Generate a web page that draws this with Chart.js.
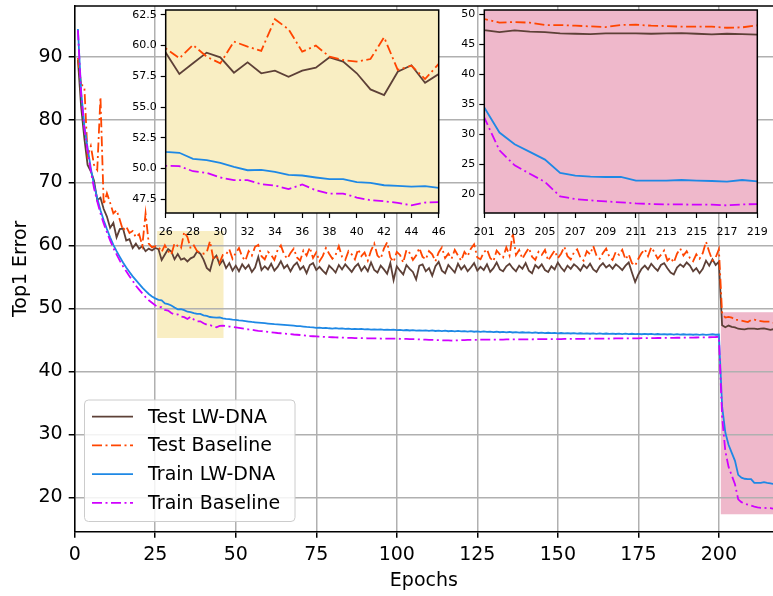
<!DOCTYPE html>
<html>
<head>
<meta charset="utf-8">
<script src="https://cdn.jsdelivr.net/npm/chart.js@4.4.1/dist/chart.umd.min.js"></script>
<style>
  body { margin: 0; background: #fff; }
  #wrap { position: relative; width: 773px; height: 596px; }
  canvas { position: absolute; }
</style>
</head>
<body>
<div id="wrap">
  <canvas id="mainChart" width="773" height="596" style="left:0;top:0"></canvas>
  <canvas id="inset1" width="330" height="240" style="left:120px;top:0"></canvas>
  <canvas id="inset2" width="330" height="240" style="left:440px;top:0"></canvas>
</div>
<script>
// top1 error per epoch, epochs 1..219
const testLW = [
  89.5, 82.0, 77.0, 72.8, 71.8, 70.3, 67.2, 67.6, 65.8, 64.6, 62.8, 63.6, 61.3, 62.6, 62.7, 60.8, 61.0, 59.6, 60.3, 59.5, 59.9, 59.1, 59.5, 59.2, 59.6,
  59.43, 57.69, 58.56, 59.43, 59.05, 57.80, 58.64, 57.75, 57.96, 57.47, 57.96, 58.21, 59.05, 58.70, 57.75, 56.44, 55.98, 57.88, 58.40, 56.98, 57.69,
  56.4, 57.2, 56.0, 56.8, 55.9, 57.0, 56.3, 56.9, 55.8, 56.5,
  58.2, 56.1, 56.7, 56.2, 57.1, 56.0, 56.6, 57.5, 56.4, 56.9,
  55.9, 56.8, 57.3, 56.2, 56.7, 55.6, 56.9, 57.2, 56.1, 56.6,
  56.0, 55.5, 56.8, 56.3, 55.7, 56.9, 56.2, 57.0, 56.4, 55.8,
  56.6, 57.1, 56.0, 56.7, 55.9, 57.3, 56.1, 55.7, 56.8, 56.2,
  55.5, 57.2, 54.5, 56.7, 56.0, 55.4, 56.9, 56.3, 55.8, 54.6,
  56.8, 57.0, 55.9, 56.4, 55.2, 56.7, 57.4, 56.0, 55.6, 56.9,
  56.3, 55.7, 57.1, 56.2, 56.8, 55.9, 56.5, 57.2, 56.0, 56.6,
  56.1, 57.0, 55.8, 56.4, 57.3, 56.2, 55.9, 56.7, 57.1, 56.4,
  55.9, 56.8, 56.3, 57.2, 56.0, 55.6, 56.9, 56.4, 57.0, 56.1,
  55.8, 56.7, 56.2, 57.3, 56.5, 55.9, 56.8, 56.3, 57.0, 56.6,
  56.0, 56.9, 56.4, 57.1, 56.2, 55.8, 56.7, 57.2, 56.5, 56.9,
  56.3, 57.0, 56.6, 56.1, 56.8, 57.3, 55.7, 54.2, 55.4, 56.3,
  56.8, 56.2, 57.1, 56.5, 56.0, 56.9, 57.2, 56.4, 55.7, 55.4,
  56.5, 57.0, 56.6, 57.3, 56.8, 55.9, 56.4, 55.6, 56.3, 57.6,
  56.8, 57.8, 56.9, 57.4,
  47.33, 47.0, 47.28, 47.06, 47.0, 46.78, 46.72, 46.67, 46.78, 46.78, 46.78, 46.72, 46.78, 46.83, 46.72, 46.61, 46.72, 46.67, 46.56
];
const testBase = [
  89.8, 85.6, 85.2, 74.3, 75.8, 72.8, 72.0, 83.6, 66.5, 68.3, 66.8, 65.1, 65.6, 64.1, 62.4, 63.0, 62.0, 62.3, 61.3, 61.8, 60.0, 65.1, 60.3, 59.7, 59.9,
  59.78, 58.97, 60.05, 59.10, 58.56, 60.33, 59.92, 59.57, 62.15, 61.33, 59.51, 60.0, 59.10, 58.83, 58.70, 58.91, 60.68, 58.02, 58.37, 57.28, 58.51,
  58.6, 59.4, 57.9, 58.8, 59.6, 58.2, 57.6, 59.1, 58.4, 59.8,
  60.1, 58.3, 57.8, 59.0, 58.5, 57.7, 59.3, 60.0, 58.6, 57.9,
  58.8, 59.5, 58.1, 57.6, 59.2, 58.4, 59.7, 58.0, 58.9, 57.5,
  58.3, 59.6, 58.7, 57.9, 58.5, 59.9, 58.2, 57.7, 59.1, 58.6,
  57.8, 59.4, 58.3, 58.9, 57.6, 59.2, 60.3, 58.4, 57.9, 59.5,
  60.5, 58.1, 57.4, 59.0, 58.5, 57.3, 59.3, 58.8, 57.7, 58.4,
  59.6, 58.2, 57.8, 59.1, 58.6, 57.5, 58.9, 59.7, 58.0, 58.7,
  57.9, 59.3, 58.4, 57.6, 59.0, 58.3, 59.5, 60.2, 58.1, 57.8,
  58.9, 59.4, 58.0, 57.5, 59.2, 58.6, 58.1, 59.7, 58.4, 62.0,
  58.5, 59.3, 57.9, 58.8, 59.6, 58.2, 57.7, 59.0, 58.5, 59.3,
  57.6, 58.4, 59.2, 58.0, 58.7, 59.8, 58.3, 57.8, 58.9, 59.4,
  58.1, 57.6, 59.1, 58.6, 59.9, 58.4, 57.9, 58.8, 59.5, 58.2,
  57.7, 59.0, 58.5, 59.3, 57.8, 58.6, 57.2, 56.8, 57.9, 58.8,
  59.4, 58.3, 59.7, 58.9, 57.9, 58.5, 59.2, 57.6, 58.1, 57.3,
  58.7, 59.5, 58.4, 59.1, 58.0, 57.5, 58.6, 57.9, 58.8, 60.6,
  59.0, 57.6, 58.1, 59.4,
  49.17, 48.56, 48.67, 48.56, 48.17, 48.17, 48.06, 47.94, 47.83, 48.17, 48.22, 48.06, 48.0, 47.89, 47.89, 47.89, 47.72, 47.78, 48.11
];
const trainLW = [
  94.4, 84.5, 79.0, 75.5, 72.3, 69.6, 67.5, 65.6, 64.0, 62.6, 61.3, 60.1, 59.1, 58.2, 57.3, 56.5, 55.8, 55.1, 54.5, 53.9, 53.3, 52.8, 52.3, 51.9, 51.6,
  51.36, 51.28, 50.79, 50.68, 50.46, 50.14, 49.86, 49.89, 49.73, 49.48, 49.43, 49.27, 49.13, 49.13, 48.89, 48.83, 48.64, 48.59, 48.53, 48.56, 48.42,
  48.35, 48.3, 48.22, 48.18, 48.1, 48.05, 47.98, 47.92, 47.85, 47.8,
  47.75, 47.7, 47.66, 47.6, 47.55, 47.5, 47.47, 47.42, 47.38, 47.35,
  47.3, 47.26, 47.2, 47.18, 47.12, 47.06, 47.02, 47.0, 46.9, 46.95,
  46.88, 46.92, 46.85, 46.8, 46.86, 46.78, 46.82, 46.75, 46.79, 46.72,
  46.76, 46.7, 46.74, 46.66, 46.72, 46.64, 46.68, 46.62, 46.66, 46.6,
  46.64, 46.58, 46.62, 46.55, 46.6, 46.52, 46.57, 46.5, 46.56, 46.48,
  46.53, 46.47, 46.51, 46.44, 46.5, 46.42, 46.47, 46.4, 46.46, 46.38,
  46.44, 46.37, 46.42, 46.35, 46.4, 46.33, 46.38, 46.3, 46.36, 46.28,
  46.34, 46.27, 46.32, 46.25, 46.3, 46.22, 46.28, 46.2, 46.26, 46.18,
  46.24, 46.16, 46.22, 46.15, 46.2, 46.12, 46.18, 46.1, 46.16, 46.08,
  46.14, 46.07, 46.12, 46.05, 46.1, 46.04, 46.09, 46.02, 46.08, 46.0,
  46.06, 46.0, 46.05, 45.98, 46.04, 45.97, 46.03, 45.96, 46.02, 45.95,
  46.01, 45.94, 46.0, 45.93, 45.99, 45.92, 45.98, 45.91, 45.97, 45.9,
  45.96, 45.9, 45.95, 45.88, 45.94, 45.87, 45.93, 45.86, 45.92, 45.85,
  45.91, 45.84, 45.9, 45.83, 45.89, 45.82, 45.88, 45.81, 45.87, 45.8,
  45.85, 45.9, 45.82, 45.86,
  34.44, 30.28, 28.33, 27.06, 25.78, 23.56, 23.11, 22.94, 22.89, 22.89, 22.28, 22.28, 22.28, 22.39, 22.28, 22.22, 22.11, 22.39, 22.17
];
const trainBase = [
  94.2, 84.0, 78.5, 75.0, 71.8, 69.1, 67.0, 65.1, 63.5, 62.1, 60.8, 59.6, 58.6, 57.6, 56.7, 55.9, 55.1, 54.4, 53.6, 53.0, 52.4, 51.8, 51.3, 50.9, 50.5,
  50.22, 50.19, 49.78, 49.65, 49.27, 49.05, 49.05, 48.72, 48.61, 48.32, 48.70, 48.23, 47.96, 47.96, 47.64, 47.42, 47.34, 47.20, 47.01, 47.23, 47.26,
  47.2, 47.12, 47.05, 46.98, 46.9, 46.82, 46.74, 46.66, 46.6, 46.52,
  46.45, 46.4, 46.33, 46.27, 46.22, 46.16, 46.1, 46.06, 46.0, 45.96,
  45.92, 45.86, 45.82, 45.78, 45.72, 45.68, 45.62, 45.58, 45.55, 45.52,
  45.5, 45.47, 45.44, 45.42, 45.4, 45.38, 45.36, 45.35, 45.33, 45.32,
  45.3, 45.29, 45.28, 45.27, 45.26, 45.25, 45.24, 45.23, 45.22, 45.22,
  45.21, 45.2, 45.2, 45.19, 45.18, 45.17, 45.16, 45.14, 45.12, 45.1,
  45.08, 45.06, 45.04, 45.02, 45.0, 44.98, 44.96, 44.94, 44.93, 44.92,
  44.9, 44.92, 44.94, 44.96, 44.98, 45.0, 45.0, 45.02, 45.02, 45.03,
  45.03, 45.04, 45.04, 45.05, 45.05, 45.06, 45.06, 45.07, 45.07, 45.08,
  45.08, 45.09, 45.09, 45.1, 45.1, 45.1, 45.11, 45.11, 45.12, 45.12,
  45.12, 45.13, 45.13, 45.14, 45.14, 45.15, 45.15, 45.16, 45.16, 45.17,
  45.17, 45.18, 45.18, 45.19, 45.19, 45.2, 45.2, 45.21, 45.21, 45.22,
  45.22, 45.23, 45.23, 45.24, 45.24, 45.25, 45.25, 45.26, 45.26, 45.27,
  45.27, 45.28, 45.28, 45.29, 45.3, 45.3, 45.31, 45.32, 45.32, 45.33,
  45.34, 45.34, 45.35, 45.36, 45.37, 45.37, 45.38, 45.39, 45.4, 45.41,
  45.42, 45.44, 45.46, 45.5,
  32.78, 27.33, 24.83, 23.44, 22.06, 19.67, 19.22, 19.0, 18.83, 18.67, 18.5, 18.39, 18.33, 18.33, 18.28, 18.28, 18.17, 18.33, 18.39
];
const epochs = testLW.map((v, i) => i + 1);

const seriesNames = ['Test LW-DNA', 'Test Baseline', 'Train LW-DNA', 'Train Baseline'];
const seriesValues = [testLW, testBase, trainLW, trainBase];

// tick labels
const mainXTicks = [0, 25, 50, 75, 100, 125, 150, 175, 200];
const mainYTicks = [20, 30, 40, 50, 60, 70, 80, 90];
const inset1XTicks = [26, 28, 30, 32, 34, 36, 38, 40, 42, 44, 46];
const inset1YTicks = [47.5, 50.0, 52.5, 55.0, 57.5, 60.0, 62.5];
const inset2XTicks = [201, 203, 205, 207, 209, 211, 213, 215, 217, 219];
const inset2YTicks = [20, 25, 30, 35, 40, 45, 50];

// zoomed regions: [xFrom, xTo, yFrom, yTo]
const yellowBox = [25.6, 46.2, 45.3, 62.3];
const pinkBox = [200.6, 230, 17.3, 49.4];

const colors = ['#5d4037', '#ff4500', '#1e88e5', '#d000ff'];
const dashes = [[], [10, 3.5, 2, 3.5], [], [10, 3.5, 2, 3.5]];
const YELLOW = '#f9eec3';
const PINK = '#efb8cb';
const FONT = "'DejaVu Sans', sans-serif";

Chart.defaults.font.family = FONT;
Chart.defaults.color = '#000';

function makeDatasets(width) {
  return seriesNames.map((name, k) => ({
    label: name,
    data: epochs.map((e, i) => ({ x: e, y: seriesValues[k][i] })),
    borderColor: colors[k],
    borderWidth: width,
    borderDash: dashes[k],
    pointRadius: 0,
    tension: 0,
    fill: false,
    order: 4 - k
  }));
}

function setTicks(list) {
  return scale => { scale.ticks = list.map(v => ({ value: v })); };
}

// fixed axis size, no extra padding for edge labels
function fitAxis(size) {
  return s => {
    if (s.isHorizontal()) s.height = size; else s.width = size;
    s.paddingTop = 0; s.paddingBottom = 0; s.paddingLeft = 0; s.paddingRight = 0;
  };
}

const mainDecor = {
  id: 'mainDecor',
  beforeDraw(chart) {
    const { ctx, chartArea: a, scales: { x, y } } = chart;
    ctx.save();
    ctx.beginPath();
    ctx.rect(a.left, a.top, a.right - a.left, a.bottom - a.top);
    ctx.clip();
    [[yellowBox, YELLOW], [pinkBox, PINK]].forEach(([b, c]) => {
      const x0 = x.getPixelForValue(b[0]), x1 = x.getPixelForValue(b[1]);
      const y0 = y.getPixelForValue(b[3]), y1 = y.getPixelForValue(b[2]);
      ctx.fillStyle = c;
      ctx.fillRect(x0, y0, x1 - x0, y1 - y0);
    });
    ctx.restore();
  },
  afterDraw(chart) {
    const { ctx, chartArea: a } = chart;
    ctx.save();
    // top spine
    ctx.strokeStyle = '#000';
    ctx.lineWidth = 1.5;
    ctx.beginPath();
    ctx.moveTo(a.left, a.top);
    ctx.lineTo(a.right, a.top);
    ctx.stroke();

    // legend
    const bx = 84.5, by = 400, bw = 210.5, bh = 121.5;
    ctx.beginPath();
    ctx.roundRect(bx, by, bw, bh, 4);
    ctx.fillStyle = 'rgba(255,255,255,0.85)';
    ctx.fill();
    ctx.strokeStyle = '#cccccc';
    ctx.lineWidth = 1;
    ctx.stroke();
    ctx.font = '19px ' + FONT;
    ctx.textBaseline = 'middle';
    chart.data.datasets.forEach((ds, i) => {
      const ly = 416.7 + i * 28.7;
      ctx.strokeStyle = ds.borderColor;
      ctx.lineWidth = 1.8;
      ctx.setLineDash(ds.borderDash);
      ctx.beginPath();
      ctx.moveTo(92, ly);
      ctx.lineTo(133, ly);
      ctx.stroke();
      ctx.setLineDash([]);
      ctx.fillStyle = '#000';
      ctx.fillText(ds.label, 148, ly + 1);
    });
    ctx.restore();
  }
};

new Chart(document.getElementById('mainChart'), {
  type: 'line',
  data: { datasets: makeDatasets(1.8) },
  options: {
    responsive: false,
    animation: false,
    devicePixelRatio: 1,
    layout: { padding: { top: 6, right: 0, left: 0, bottom: 0 } },
    plugins: { legend: { display: false }, tooltip: { enabled: false } },
    scales: {
      x: {
        type: 'linear',
        min: 0,
        max: 216.8,
        afterBuildTicks: setTicks(mainXTicks),
        afterFit: fitAxis(64.3),
        grid: { color: '#b0b0b0', lineWidth: 1.5, tickColor: '#000', tickWidth: 1.5, tickLength: 6 },
        border: { color: '#000', width: 1.5 },
        ticks: { font: { size: 19 }, padding: 6, maxRotation: 0 },
        title: { display: true, text: 'Epochs', font: { size: 19 }, padding: { top: 0, bottom: 3.5 } }
      },
      y: {
        type: 'linear',
        min: 14.53,
        max: 98.05,
        afterBuildTicks: setTicks(mainYTicks),
        afterFit: fitAxis(74.7),
        grid: { color: '#b0b0b0', lineWidth: 1.5, tickColor: '#000', tickWidth: 1.5, tickLength: 6 },
        border: { color: '#000', width: 1.5 },
        ticks: { font: { size: 19 }, padding: 6 },
        title: { display: true, text: 'Top1 Error', font: { size: 19 }, padding: { top: 10, bottom: 0 } }
      }
    }
  },
  plugins: [mainDecor]
});

function insetDecor(bg) {
  return {
    id: 'insetDecor',
    beforeDraw(chart) {
      const { ctx, chartArea: a } = chart;
      ctx.save();
      ctx.fillStyle = bg;
      ctx.fillRect(a.left, a.top, a.right - a.left, a.bottom - a.top);
      ctx.restore();
    },
    afterDraw(chart) {
      const { ctx, chartArea: a } = chart;
      ctx.save();
      ctx.strokeStyle = '#000';
      ctx.lineWidth = 1.5;
      ctx.strokeRect(a.left, a.top, a.right - a.left, a.bottom - a.top);
      ctx.restore();
    }
  };
}

function makeInset(id, bg, xr, yr, xt, yt, leftW, rightPad, yFmt) {
  new Chart(document.getElementById(id), {
    type: 'line',
    data: { datasets: makeDatasets(1.8) },
    options: {
      responsive: false,
      animation: false,
      devicePixelRatio: 1,
      layout: { padding: { top: 10, right: rightPad, left: 0, bottom: 0 } },
      plugins: { legend: { display: false }, tooltip: { enabled: false } },
      scales: {
        x: {
          type: 'linear',
          min: xr[0],
          max: xr[1],
          afterBuildTicks: setTicks(xt),
          afterFit: fitAxis(27),
          grid: { drawOnChartArea: false, tickColor: '#000', tickWidth: 1.2, tickLength: 5 },
          border: { display: false },
          ticks: { font: { size: 11 }, padding: 8, maxRotation: 0, autoSkip: false }
        },
        y: {
          type: 'linear',
          min: yr[0],
          max: yr[1],
          afterBuildTicks: setTicks(yt),
          afterFit: fitAxis(leftW),
          grid: { drawOnChartArea: false, tickColor: '#000', tickWidth: 1.2, tickLength: 5 },
          border: { display: false },
          ticks: { font: { size: 11 }, padding: 4, callback: yFmt, autoSkip: false }
        }
      }
    },
    plugins: [insetDecor(bg)]
  });
}

makeInset('inset1', YELLOW, [26, 46], [46.38, 62.9], inset1XTicks, inset1YTicks, 45.7, 11.3, v => v.toFixed(1));
makeInset('inset2', PINK, [201, 219], [16.9, 50.67], inset2XTicks, inset2YTicks, 44.3, 12.7, v => String(v));
</script>
</body>
</html>
